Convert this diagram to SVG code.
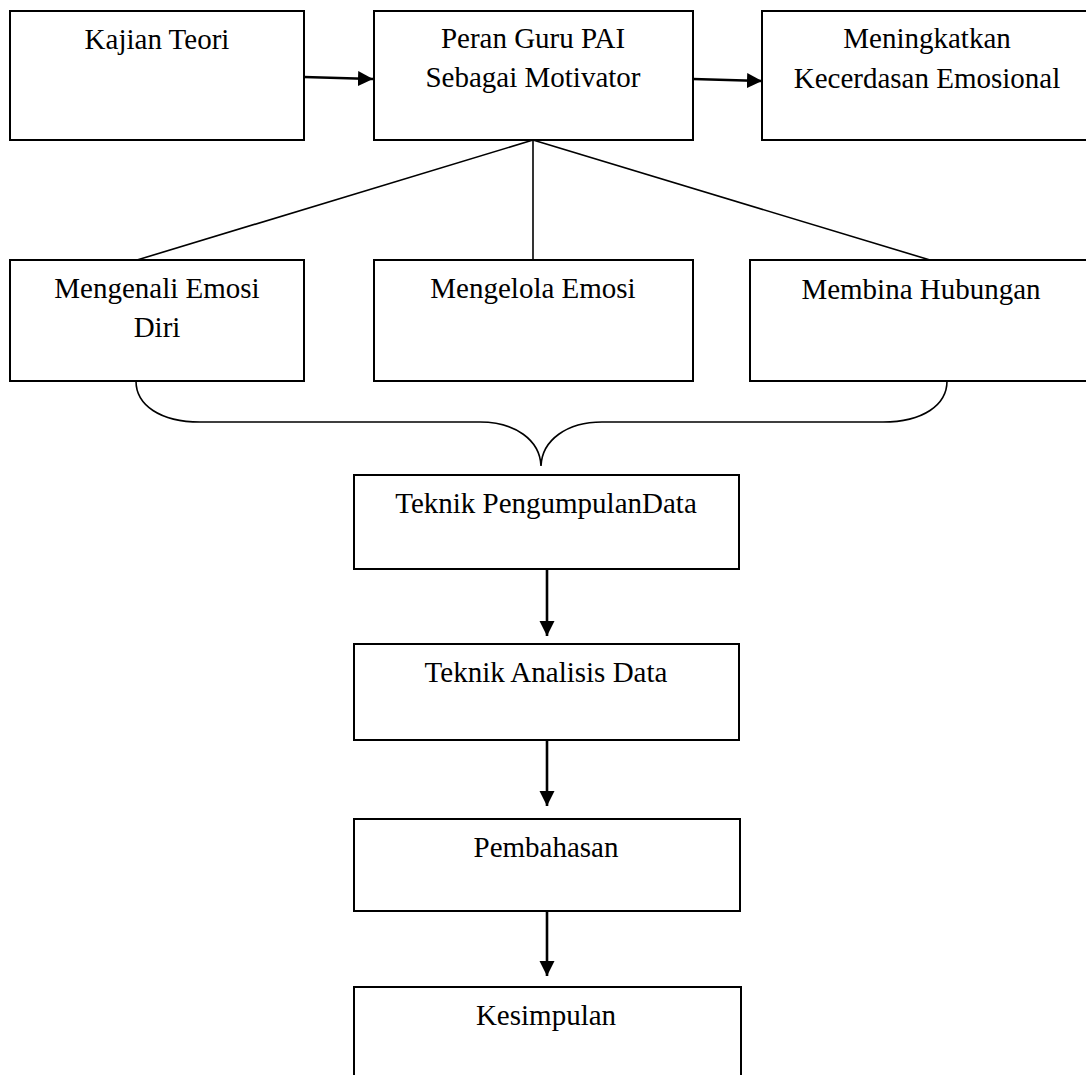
<svg xmlns="http://www.w3.org/2000/svg" width="1086" height="1075" viewBox="0 0 1086 1075">
<style>
.box{fill:#fff;stroke:#000;stroke-width:2}
.t{font-family:"Liberation Serif","Times New Roman",serif;font-size:29px;fill:#000;text-anchor:middle}
.arr{stroke:#000;stroke-width:2.6;fill:none}
.thin{stroke:#000;stroke-width:1.6;fill:none}
</style>
<defs>
<marker id="ah" markerUnits="userSpaceOnUse" markerWidth="16" markerHeight="16" viewBox="0 0 16 16" refX="15" refY="8" orient="auto">
<path d="M0,0.5 L15,8 L0,15.5 Z" fill="#000"/>
</marker>
</defs>
<rect width="1086" height="1075" fill="#fff"/>
<g id="connectors">
<line class="arr" x1="304" y1="77" x2="373" y2="79" marker-end="url(#ah)"/>
<line class="arr" x1="693" y1="79" x2="762" y2="81" marker-end="url(#ah)"/>
<line class="thin" x1="533" y1="140" x2="137" y2="260"/>
<line class="thin" x1="533" y1="140" x2="533" y2="260"/>
<line class="thin" x1="533" y1="140" x2="930" y2="260"/>
<path class="thin" d="M136,381 C136,405 160,422 200,422 L480,422 C515,422 540,440 541,466 C542,440 567,422 602,422 L883,422 C923,422 947,405 947,381"/>
<line class="arr" x1="547" y1="569" x2="547" y2="636" marker-end="url(#ah)"/>
<line class="arr" x1="547" y1="740" x2="547" y2="806" marker-end="url(#ah)"/>
<line class="arr" x1="547" y1="911" x2="547" y2="976" marker-end="url(#ah)"/>
</g>
<g id="kajian-teori">
<rect class="box" x="10" y="11" width="294" height="129"/>
<text class="t" x="157" y="49">Kajian Teori</text>
</g>
<g id="peran-guru">
<rect class="box" x="374" y="11" width="319" height="129"/>
<text class="t" x="533" y="48">Peran Guru PAI</text>
<text class="t" x="533" y="87">Sebagai Motivator</text>
</g>
<g id="meningkatkan">
<rect class="box" x="762" y="11" width="340" height="129"/>
<text class="t" x="927" y="48">Meningkatkan</text>
<text class="t" x="927" y="88">Kecerdasan Emosional</text>
</g>
<g id="mengenali">
<rect class="box" x="10" y="260" width="294" height="121"/>
<text class="t" x="157" y="298">Mengenali Emosi</text>
<text class="t" x="157" y="337">Diri</text>
</g>
<g id="mengelola">
<rect class="box" x="374" y="260" width="319" height="121"/>
<text class="t" x="533" y="298">Mengelola Emosi</text>
</g>
<g id="membina">
<rect class="box" x="750" y="260" width="350" height="121"/>
<text class="t" x="921" y="299">Membina Hubungan</text>
</g>
<g id="pengumpulan">
<rect class="box" x="354" y="475" width="385" height="94"/>
<text class="t" x="546" y="513">Teknik PengumpulanData</text>
</g>
<g id="analisis">
<rect class="box" x="354" y="644" width="385" height="96"/>
<text class="t" x="546" y="682">Teknik Analisis Data</text>
</g>
<g id="pembahasan">
<rect class="box" x="354" y="819" width="386" height="92"/>
<text class="t" x="546" y="857">Pembahasan</text>
</g>
<g id="kesimpulan">
<rect class="box" x="354" y="987" width="387" height="100"/>
<text class="t" x="546" y="1025">Kesimpulan</text>
</g>
</svg>
